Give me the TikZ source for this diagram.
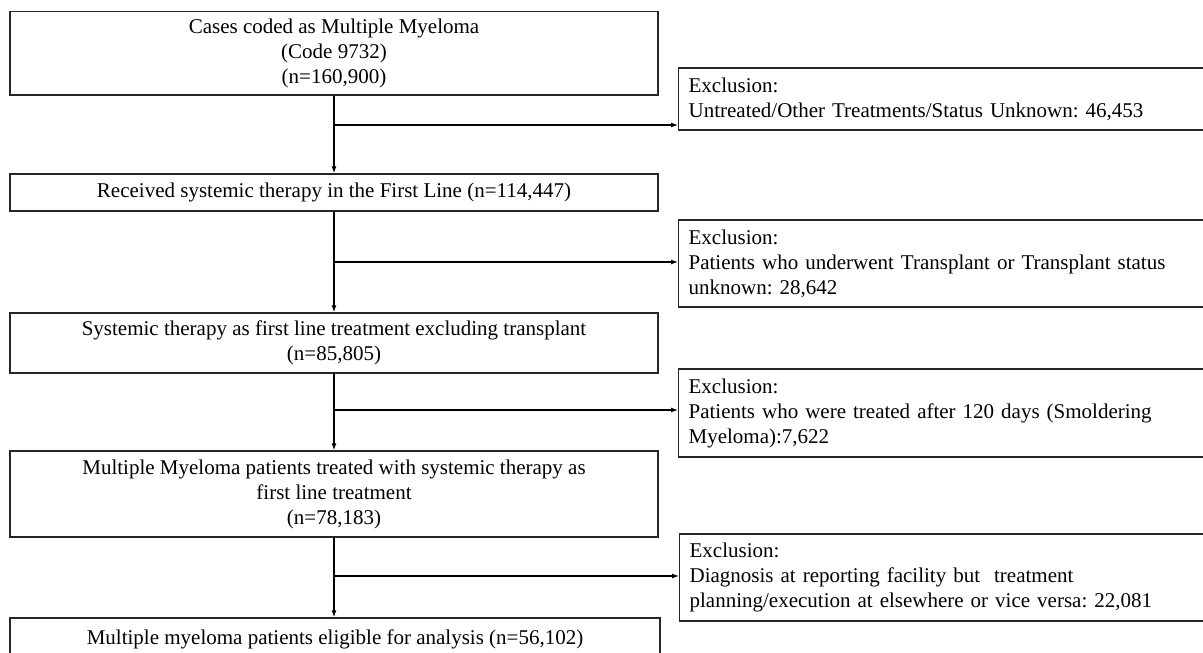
\documentclass[tikz,border=0pt]{standalone}
\usepackage{fontspec}
\setmainfont{Liberation Serif}
\usetikzlibrary{arrows.meta}
\frenchspacing
\begin{document}
\begin{tikzpicture}[x=1pt,y=-1pt,
  mainbox/.style={draw=black!85,line width=1.3pt,minimum width=648pt,align=center,inner sep=0pt,
    font=\fontsize{21}{25}\selectfont},
  exclbox/.style={draw=black!85,line width=1.3pt,anchor=west,minimum width=560pt,text width=540pt,
    align=left,inner xsep=10pt,inner ysep=0pt,font=\fontsize{21}{25}\selectfont},
  flow/.style={line width=1.2pt,-{Latex[length=7pt,width=5pt]}}]
\useasboundingbox (0,0) rectangle (1203,653);
\clip (0,0) rectangle (1203,653);
\fill[white] (0,0) rectangle (1203,653);

\node[mainbox,minimum height=83.5pt] (b1) at (334,53.3) {Cases coded as Multiple Myeloma\\(Code 9732)\\(n=160,900)};
\node[mainbox,minimum height=37pt] (b2) at (334,192.5) {Received systemic therapy in the First Line (n=114,447)};
\node[mainbox,minimum height=60pt] (b3) at (334,343) {Systemic therapy as first line treatment excluding transplant\\(n=85,805)};
\node[mainbox,minimum height=86pt] (b4) at (334,494) {Multiple Myeloma patients treated with systemic therapy as\\first line treatment\\(n=78,183)};
\node[mainbox,minimum height=42pt,minimum width=650pt] (b5) at (335,639) {Multiple myeloma patients eligible for analysis (n=56,102)};

\node[exclbox,minimum height=62pt] (e1) at (678,99) {Exclusion:\\Untreated/Other Treatments/Status Unknown: 46,453};
\node[exclbox,minimum height=87pt] (e2) at (678,263.5) {Exclusion:\\Patients who underwent Transplant or Transplant status\\unknown: 28,642};
\node[exclbox,minimum height=88pt] (e3) at (678,413) {Exclusion:\\Patients who were treated after 120 days (Smoldering\\Myeloma):7,622};
\node[exclbox,minimum height=87pt] (e4) at (679,577.5) {Exclusion:\\Diagnosis at reporting facility but\ \ treatment\\planning/execution at elsewhere or vice versa: 22,081};

\coordinate (j1) at (334,125);
\coordinate (j2) at (334,262);
\coordinate (j3) at (334,410);
\coordinate (j4) at (334,576);

\draw[flow] (b1.south) -- (b2.north);
\draw[flow] (b2.south) -- (b3.north);
\draw[flow] (b3.south) -- (b4.north);
\draw[flow] (b4.south) -- (b4.south |- b5.north);
\draw[flow] (j1) -- (j1 -| e1.west);
\draw[flow] (j2) -- (j2 -| e2.west);
\draw[flow] (j3) -- (j3 -| e3.west);
\draw[flow] (j4) -- (j4 -| e4.west);
\end{tikzpicture}
\end{document}
